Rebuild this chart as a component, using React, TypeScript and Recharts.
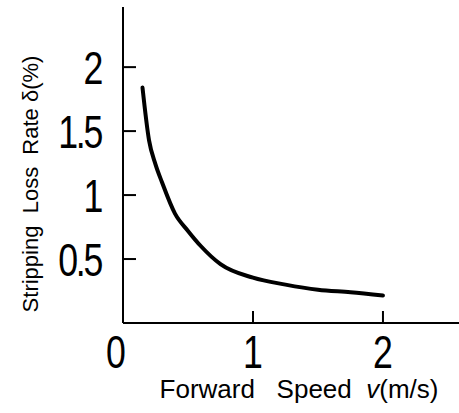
import React from 'react';
import { LineChart, Line, XAxis, YAxis } from 'recharts';

const speed = [0.15, 0.2, 0.25, 0.3, 0.4, 0.5, 0.6, 0.75, 1.0, 1.25, 1.5, 1.75, 2.0];
const lossRate = [1.84, 1.43, 1.24, 1.1, 0.855, 0.72, 0.6, 0.46, 0.354, 0.3, 0.26, 0.24, 0.215];
const xTicks = [0, 1, 2];
const yTicks = [0.5, 1, 1.5, 2];
const xTitleA = 'Forward   Speed  ';
const xTitleVar = 'v';
const xTitleUnit = '(m/s)';
const yTitle = 'Stripping  Loss  Rate δ(%)';

const data = speed.map((v, i) => ({ v, d: lossRate[i] }));

const NUM_FONT = "'Liberation Sans', Arial, sans-serif";
const TITLE_FONT = "'Liberation Sans', Arial, sans-serif";

const XTick = (props: any) => {
  const { x, y, payload } = props;
  const shift = payload.value === 0 ? -7 : 0;
  return (
    <g>
      {payload.value !== 0 && (
        <line x1={x} x2={x} y1={y} y2={y - 12} stroke="#000" strokeWidth={2} />
      )}
      <text
        transform={`translate(${x + shift},${y + 45}) scale(0.76,1)`}
        textAnchor="middle"
        fontFamily={NUM_FONT}
        fontSize={47}
        fill="#000"
      >
        {payload.value}
      </text>
    </g>
  );
};

const YTick = (props: any) => {
  const { x, y, payload } = props;
  return (
    <g>
      <line x1={x} x2={x + 13} y1={y} y2={y} stroke="#000" strokeWidth={2} />
      <text
        transform={`translate(${x - 22},${y + 17}) scale(0.76,1)`}
        textAnchor="end"
        fontFamily={NUM_FONT}
        fontSize={47}
        letterSpacing={-3}
        fill="#000"
      >
        {payload.value}
      </text>
    </g>
  );
};

const XTitle = (props: any) => {
  const vb = props.viewBox || { x: 123, y: 323, width: 336, height: 90 };
  const cx = vb.x + vb.width / 2 + 8;
  const cy = vb.y + 75;
  return (
    <text x={cx} y={cy} textAnchor="middle" fontFamily={TITLE_FONT} fontSize={26} fill="#000" style={{ whiteSpace: 'pre' }}>
      {xTitleA}
      <tspan fontStyle="italic">{xTitleVar}</tspan>
      {xTitleUnit}
    </text>
  );
};

const YTitle = (props: any) => {
  const vb = props.viewBox || { x: 0, y: 7, width: 123, height: 316 };
  const cx = 38;
  const cy = vb.y + vb.height / 2 + 19;
  return (
    <text x={cx} y={cy} transform={`rotate(-90, ${cx}, ${cy})`} textAnchor="middle" fontFamily={TITLE_FONT} fontSize={22} fill="#000" style={{ whiteSpace: 'pre' }}>
      {yTitle}
    </text>
  );
};

export default function App() {
  return (
    <div style={{ position: 'absolute', left: 0, top: 0, background: '#fff' }}>
      <LineChart width={459} height={413} data={data} margin={{ top: 7, right: 0, left: 0, bottom: 0 }}>
        <XAxis
          type="number"
          dataKey="v"
          domain={[0, 2.585]}
          ticks={xTicks}
          allowDataOverflow
          height={90}
          tickSize={0}
          tickMargin={0}
          tickLine={false}
          tick={<XTick />}
          axisLine={{ stroke: '#000', strokeWidth: 2 }}
          label={<XTitle />}
        />
        <YAxis
          type="number"
          domain={[0, 2.47]}
          ticks={yTicks}
          allowDataOverflow
          width={123}
          tickSize={0}
          tickMargin={0}
          tickLine={false}
          tick={<YTick />}
          axisLine={{ stroke: '#000', strokeWidth: 2 }}
          label={<YTitle />}
        />
        <Line
          type="monotone"
          dataKey="d"
          stroke="#000"
          strokeWidth={4}
          dot={false}
          strokeLinecap="round"
          isAnimationActive={false}
        />
      </LineChart>
    </div>
  );
}
